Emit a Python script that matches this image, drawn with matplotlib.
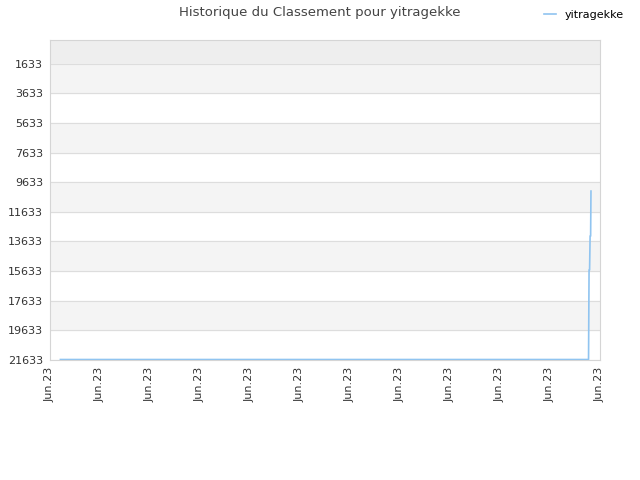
import matplotlib
matplotlib.use('Agg')
import matplotlib.pyplot as plt
import matplotlib.dates as mdates
import pandas as pd

# Données du classement (rang, plus petit = meilleur)
joueur = "yitragekke"
dates = pd.to_datetime([
    "2023-06-01 10:00", "2023-06-22 13:00", "2023-06-22 13:30",
    "2023-06-22 14:00", "2023-06-22 14:30", "2023-06-22 15:00",
    "2023-06-22 15:20",
])
rangs = [21600, 21600, 15560, 15560, 13270, 13270, 10230]

yticks = list(range(1633, 21634, 2000))
xticks = pd.date_range("2023-06-01", "2023-06-23", freq="2D")

fig = plt.figure(figsize=(6.4, 4.8), dpi=100)
ax = fig.add_axes([50/640, 120/480, 550/640, 320/480])

# Bandes alternées
ax.axhspan(33, 1633, color='#eeeeee', zorder=0)
for y0 in range(1633, 21633, 4000):
    ax.axhspan(y0, y0 + 2000, color='#f4f4f4', zorder=0)

ax.plot(dates, rangs, color='#90c4f0', linewidth=1.2, label=joueur, zorder=3)

ax.set_ylim(21633, 33)
ax.set_xlim(xticks[0], xticks[-1])
ax.set_yticks(yticks)
ax.set_yticklabels([str(v) for v in yticks])
ax.set_xticks(xticks)
ax.xaxis.set_major_formatter(mdates.DateFormatter('Jun.23'))
plt.setp(ax.xaxis.get_majorticklabels(), rotation=90)

ax.grid(True, axis='y', color='#dddddd', linewidth=0.8, zorder=1)
ax.tick_params(axis='both', length=0, labelsize=8, colors='#333333', pad=5)
for s in ax.spines.values():
    s.set_color('#d5d5d5')

fig.suptitle(f"Historique du Classement pour {joueur}", x=0.5, y=0.988,
             fontsize=9.5, color='#444444')
fig.legend(loc='upper right', bbox_to_anchor=(0.99, 1.0), frameon=False,
           fontsize=8, handlelength=1.0, handletextpad=0.8)

plt.savefig("out.png", dpi=100)
